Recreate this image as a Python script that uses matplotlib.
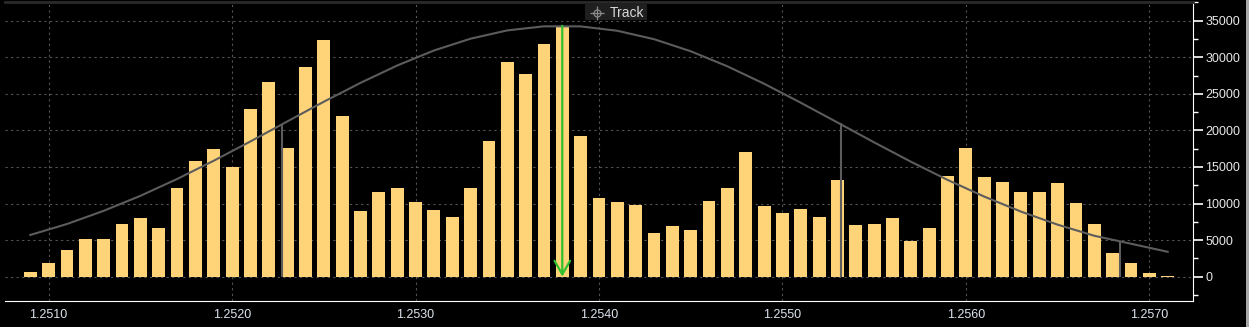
#!/usr/bin/env python3
"""Volume-at-price histogram with a fitted normal curve (dark terminal style)."""
import matplotlib
matplotlib.use("Agg")
import matplotlib.pyplot as plt
from matplotlib.lines import Line2D
from matplotlib.patches import Rectangle
from matplotlib.ticker import MultipleLocator, FixedLocator

# price levels (0.0001 steps) and traded volume at each level
prices = [round(1.2509 + 0.0001 * i, 4) for i in range(63)]
volumes = [
    600, 1850, 3650, 5150, 5150, 7200, 8020, 6650, 12120, 15810,
    17450, 14990, 22920, 26610, 17590, 28660, 32350, 21960, 8980, 11570,
    12120, 10200, 9110, 8160, 12120, 18550, 29350, 27710, 31810, 34180,
    19230, 10750, 10200, 9800, 5970, 6930, 6380, 10340, 12120, 17040,
    9660, 8700, 9250, 8160, 13220, 7060, 7200, 8020, 4920, 6650,
    13760, 17590, 13630, 12940, 11570, 11570, 12800, 10070, 7200, 3240,
    1870, 500, 100,
]

# normal-fit curve, every 0.0002
curve_x = [round(1.2509 + 0.0002 * i, 4) for i in range(32)]
curve_y = [
    5700, 7200, 9000, 11050, 13350, 15850, 18490, 21210, 23920, 26500,
    28870, 30920, 32540, 33670, 34230, 34220, 33620, 32470, 30820, 28760,
    26380, 23780, 21080, 18360, 15720, 13230, 10950, 8900, 7110, 5590,
    4500, 3400,
]

# sigma markers (vertical drops from curve) and the mean arrow
sigma_x = [1.25227, 1.25532, 1.25684]
sigma_top = [20730, 20960, 4830]
mean_x = 1.2538
mean_top = 34300

x_ticks = [1.2510, 1.2520, 1.2530, 1.2540, 1.2550, 1.2560, 1.2570]

BG = "#000000"
BAR = "#FFD479"
CURVE = "#5c5c5c"
GRID = "#555555"

plt.rcParams["font.family"] = ["Liberation Sans", "DejaVu Sans"]

fig = plt.figure(figsize=(12.49, 3.27), dpi=100, facecolor=BG)
ax = fig.add_axes([0.004, 0.0795, 0.951, 0.9145])
ax.set_facecolor(BG)

ax.bar(prices, volumes, width=0.00007, color=BAR, zorder=2)
ax.plot(curve_x, curve_y, color=CURVE, lw=1.5, zorder=3)
ax.vlines(sigma_x, 0, sigma_top, color=CURVE, lw=1.5, zorder=3)
ax.annotate("", xy=(mean_x, 0), xytext=(mean_x, mean_top),
            arrowprops=dict(arrowstyle="->,head_length=0.7,head_width=0.4",
                            color="#2fbf2f", lw=1.6, mutation_scale=14,
                            shrinkA=0, shrinkB=0), zorder=4)

ax.set_xlim(1.250762, 1.257237)
ax.set_ylim(-3330, 37560)

ax.xaxis.set_major_locator(FixedLocator(x_ticks))
ax.set_xticklabels([f"{t:.4f}" for t in x_ticks])
ax.yaxis.set_major_locator(MultipleLocator(5000))
ax.yaxis.set_minor_locator(MultipleLocator(2500))
ax.yaxis.tick_right()
ax.set_yticks(range(0, 35001, 5000))

ax.tick_params(axis="x", length=0, pad=6, labelsize=9, labelcolor="#dce4ee")
ax.tick_params(axis="y", which="major", length=7, width=1.2, color="white",
               pad=2, labelsize=9, labelcolor="#e8e8e8", direction="out")
ax.tick_params(axis="y", which="minor", length=3.5, width=1, color="white",
               direction="out")

ax.grid(True, which="major", color=GRID, linestyle=(0, (2, 3)), lw=0.8, zorder=0)
ax.set_axisbelow(True)

ax.spines["left"].set_visible(False)
ax.spines["top"].set_color("#2a2a2a")
ax.spines["top"].set_linewidth(2)
ax.spines["bottom"].set_color("white")
ax.spines["right"].set_color("white")

W, H = 1249, 327
# light panel edge on the far right
fig.add_artist(Rectangle((1246 / W, 0), 3 / W, 1, transform=fig.transFigure,
                         facecolor="#a8a8a8", edgecolor="none", zorder=5))

# "Track" tag on top
fig.add_artist(Rectangle((585 / W, 1 - 20 / H), 62 / W, 17 / H,
                         transform=fig.transFigure, facecolor="#1f1f1f",
                         edgecolor="none", zorder=5))
cx, cy = 597 / W, 1 - 12.7 / H
fig.add_artist(Line2D([cx], [cy], marker="o", ms=5, mfc="none", mec="#8a8a8a",
                      mew=0.9, transform=fig.transFigure, zorder=6))
fig.add_artist(Line2D([cx], [cy], marker="+", ms=10, mec="#8a8a8a",
                      mew=0.9, transform=fig.transFigure, zorder=6))
fig.text(610 / W, cy, "Track", color="#d8d8d8", fontsize=10,
         va="center", ha="left", zorder=7)

fig.savefig("out.png", dpi=100, facecolor=BG)
plt.close(fig)
